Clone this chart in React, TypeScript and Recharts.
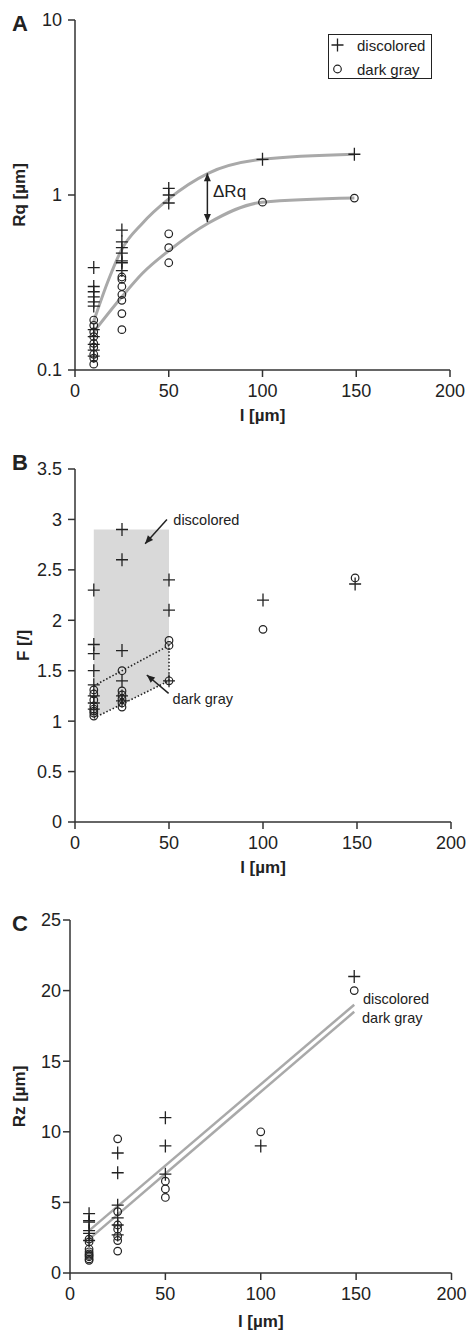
import React from 'react';
import { ComposedChart, Scatter, Line, Area, XAxis, YAxis, ReferenceLine, ReferenceDot } from 'recharts';

const FONT = '"Liberation Sans", Arial, Helvetica, sans-serif';
const INK = '#222';
const CURVE = '#a9a9a9';

// x positions of the measurement groups (l in µm)
const lengths = [10, 25, 50, 100, 149];
const xTicks = [0, 50, 100, 150, 200];

// panel A – Rq [µm], log axis
const rqTicks = [0.1, 1, 10];
const rqDiscolored = [
  [0.385, 0.3, 0.28, 0.262, 0.245, 0.232, 0.17, 0.155, 0.14, 0.13, 0.12],
  [0.63, 0.54, 0.5, 0.465, 0.42, 0.41, 0.37],
  [1.09, 1.0, 0.9],
  [1.6],
  [1.71],
];
const rqDarkGray = [
  [0.193, 0.18, 0.165, 0.155, 0.142, 0.135, 0.123, 0.117, 0.108],
  [0.34, 0.33, 0.3, 0.27, 0.25, 0.21, 0.17],
  [0.6, 0.5, 0.41],
  [0.91],
  [0.96],
];
const rqFitDiscoloredX = [10, 18, 25, 36, 50, 71, 100, 149];
const rqFitDiscolored = [0.19, 0.33, 0.49, 0.69, 0.95, 1.33, 1.6, 1.71];
const rqFitDarkGrayX = [10, 25, 36, 50, 71, 100, 149];
const rqFitDarkGray = [0.165, 0.262, 0.357, 0.48, 0.69, 0.91, 0.96];

// panel B – F [/]
const fTicks = [0, 0.5, 1, 1.5, 2, 2.5, 3, 3.5];
const fDiscolored = [
  [2.3, 1.76, 1.67, 1.5, 1.36, 1.25, 1.18, 1.12],
  [2.9, 2.6, 1.7, 1.4, 1.25, 1.2],
  [2.4, 2.1, 1.4],
  [2.2],
  [2.36],
];
const fDarkGray = [
  [1.31, 1.27, 1.21, 1.15, 1.12, 1.1, 1.08, 1.05],
  [1.5, 1.3, 1.26, 1.22, 1.18, 1.14],
  [1.8, 1.75, 1.4],
  [1.91],
  [2.42],
];
const shadeX = [10, 50];
const shadeLow = [1.03, 1.4];
const shadeHigh = [2.9, 2.9];
const bandX = [10, 50, 50, 10];
const bandY = [1.03, 1.4, 1.75, 1.35];

// panel C – Rz [µm]
const rzTicks = [0, 5, 10, 15, 20, 25];
const rzDiscolored = [
  [4.2, 3.7, 3.6, 3.0, 2.8, 2.3],
  [8.5, 7.1, 4.8, 3.9, 3.4, 2.7],
  [11.0, 9.0, 7.0],
  [9.0],
  [21.0],
];
const rzDarkGray = [
  [2.4, 2.2, 1.7, 1.5, 1.35, 1.25, 1.15, 1.0, 0.9],
  [9.5, 4.35, 3.4, 3.1, 2.6, 2.3, 1.55],
  [6.5, 5.95, 5.35],
  [10.0],
  [20.0],
];
const rzFitX = [10, 149];
const rzFitDiscolored = [3.0, 19.0];
const rzFitDarkGray = [2.4, 18.5];

const legendItems = ['discolored', 'dark gray'];

const toPoints = (groups: number[][]) =>
  groups.flatMap((vals, i) => vals.map((y) => ({ x: lengths[i], y })));
const zip = (xs: number[], ys: number[]) => xs.map((x, i) => ({ x, y: ys[i] }));

function Cross(props: any) {
  const { cx, cy } = props;
  if (cx == null || cy == null) return null;
  return (
    <path
      d={`M${cx - 6},${cy}H${cx + 6}M${cx},${cy - 6.5}V${cy + 6.5}`}
      stroke={INK}
      strokeWidth={1.3}
      fill="none"
    />
  );
}

function Ring(props: any) {
  const { cx, cy } = props;
  if (cx == null || cy == null) return null;
  return <circle cx={cx} cy={cy} r={3.8} stroke={INK} strokeWidth={1.2} fill="none" />;
}

function arrow(both: boolean) {
  return (p: any) => {
    const { x1, y1, x2, y2 } = p;
    const dx = x2 - x1;
    const dy = y2 - y1;
    const len = Math.hypot(dx, dy) || 1;
    const ux = dx / len;
    const uy = dy / len;
    const head = (tx: number, ty: number, sx: number, sy: number) => {
      const bx = tx - sx * 8;
      const by = ty - sy * 8;
      return `M${tx},${ty}L${bx - sy * 3.5},${by + sx * 3.5}L${bx + sy * 3.5},${by - sx * 3.5}Z`;
    };
    return (
      <g>
        <line x1={x1} y1={y1} x2={x2} y2={y2} stroke={INK} strokeWidth={1.5} />
        <path d={head(x2, y2, ux, uy) + (both ? head(x1, y1, -ux, -uy) : '')} fill={INK} />
      </g>
    );
  };
}

function note(text: string, size = 14.5) {
  return (p: any) => (
    <text x={p.cx} y={p.cy} dy="0.35em" fontSize={size} fill={INK}>
      {text}
    </text>
  );
}

const axisLine = { stroke: '#333', strokeWidth: 1.5 };
const tickStyle = { fill: INK, fontSize: 18 };
const labelStyle = { fontWeight: 'bold', fontSize: 17, fill: INK };

function xAxis(height: number, offset: number) {
  return (
    <XAxis
      type="number"
      dataKey="x"
      domain={[0, 200]}
      ticks={xTicks}
      interval={0}
      allowDataOverflow
      height={height}
      axisLine={axisLine}
      tickLine={axisLine}
      tickSize={7}
      tickMargin={7}
      tick={tickStyle}
      label={{ value: 'l [µm]', position: 'insideBottom', offset, style: labelStyle }}
    />
  );
}

function LegendBox() {
  return (
    <div
      style={{
        position: 'absolute',
        left: 328,
        top: 34,
        border: `1.5px solid ${INK}`,
        boxSizing: 'border-box',
        width: 104,
        height: 45,
        fontSize: 15,
        color: INK,
        background: '#fff',
      }}
    >
      {legendItems.map((item, i) => (
        <div
          key={item}
          style={{ position: 'absolute', left: 0, top: i * 24, height: 20, display: 'flex', alignItems: 'center' }}
        >
          <svg width={28} height={20}>
            {i === 0 ? <Cross cx={8.5} cy={10} /> : <Ring cx={8.5} cy={10} />}
          </svg>
          <span>{item}</span>
        </div>
      ))}
    </div>
  );
}

const letterStyle: React.CSSProperties = {
  position: 'absolute',
  left: 12,
  fontSize: 22,
  fontWeight: 'bold',
  lineHeight: '22px',
  color: INK,
};

export default function App() {
  return (
    <div style={{ position: 'absolute', left: 0, top: 0, width: 468, height: 1330, background: '#fff', fontFamily: FONT }}>
      {/* A */}
      <div style={{ position: 'absolute', left: 0, top: 0 }}>
        <ComposedChart width={468} height={432} margin={{ top: 20, right: 18, bottom: 0, left: 0 }}>
          {xAxis(62, 11)}
          <YAxis
            type="number"
            dataKey="y"
            scale="log"
            domain={[0.1, 10]}
            ticks={rqTicks}
            interval={0}
            allowDataOverflow
            width={75}
            axisLine={axisLine}
            tickLine={axisLine}
            tickSize={7}
            tickMargin={6}
            tick={tickStyle}
            label={{ value: 'Rq [µm]', angle: -90, position: 'insideLeft', offset: 19, style: { ...labelStyle, textAnchor: 'middle' } }}
          />
          <Line data={zip(rqFitDiscoloredX, rqFitDiscolored)} dataKey="y" type="monotone" stroke={CURVE} strokeWidth={3} dot={false} isAnimationActive={false} />
          <Line data={zip(rqFitDarkGrayX, rqFitDarkGray)} dataKey="y" type="monotone" stroke={CURVE} strokeWidth={3} dot={false} isAnimationActive={false} />
          <Scatter name="discolored" data={toPoints(rqDiscolored)} shape={Cross} isAnimationActive={false} />
          <Scatter name="dark gray" data={toPoints(rqDarkGray)} shape={Ring} isAnimationActive={false} />
          <ReferenceLine segment={[{ x: 70.6, y: 1.33 }, { x: 70.6, y: 0.7 }]} shape={arrow(true)} />
          <ReferenceDot x={73.6} y={1.05} r={0} shape={note('ΔRq', 17)} />
        </ComposedChart>
        <LegendBox />
        <div style={{ ...letterStyle, top: 13 }}>A</div>
      </div>

      {/* B */}
      <div style={{ position: 'absolute', left: 0, top: 420 }}>
        <ComposedChart width={468} height={460} margin={{ top: 49, right: 17, bottom: 0, left: 0 }}>
          {xAxis(58, 7)}
          <YAxis
            type="number"
            dataKey="y"
            domain={[0, 3.5]}
            ticks={fTicks}
            interval={0}
            allowDataOverflow
            width={75}
            axisLine={axisLine}
            tickLine={axisLine}
            tickSize={7}
            tickMargin={6}
            tick={tickStyle}
            label={{ value: 'F [/]', angle: -90, position: 'insideLeft', offset: 23, style: { ...labelStyle, textAnchor: 'middle' } }}
          />
          <Area
            data={shadeX.map((x, i) => ({ x, band: [shadeLow[i], shadeHigh[i]] }))}
            dataKey="band"
            type="linear"
            stroke="none"
            fill="#d9d9d9"
            fillOpacity={1}
            isAnimationActive={false}
          />
          <Line data={zip(bandX, bandY)} dataKey="y" type="linear" stroke={INK} strokeWidth={1.6} strokeDasharray="1.5 2" dot={false} isAnimationActive={false} />
          <Scatter data={toPoints(fDiscolored)} shape={Cross} isAnimationActive={false} />
          <Scatter data={toPoints(fDarkGray)} shape={Ring} isAnimationActive={false} />
          <ReferenceLine segment={[{ x: 48.9, y: 3.0 }, { x: 37.3, y: 2.76 }]} shape={arrow(false)} />
          <ReferenceLine segment={[{ x: 49.8, y: 1.276 }, { x: 38.2, y: 1.458 }]} shape={arrow(false)} />
          <ReferenceDot x={52.3} y={3.0} r={0} shape={note('discolored')} />
          <ReferenceDot x={51.9} y={1.217} r={0} shape={note('dark gray')} />
        </ComposedChart>
        <div style={{ ...letterStyle, top: 32 }}>B</div>
      </div>

      {/* C */}
      <div style={{ position: 'absolute', left: 0, top: 870 }}>
        <ComposedChart width={468} height={460} margin={{ top: 50, right: 16.5, bottom: 0, left: 0 }}>
          {xAxis(57, 3)}
          <YAxis
            type="number"
            dataKey="y"
            domain={[0, 25]}
            ticks={rzTicks}
            interval={0}
            allowDataOverflow
            width={70}
            axisLine={axisLine}
            tickLine={axisLine}
            tickSize={7}
            tickMargin={2}
            tick={tickStyle}
            label={{ value: 'Rz [µm]', angle: -90, position: 'insideLeft', offset: 19, style: { ...labelStyle, textAnchor: 'middle' } }}
          />
          <Line data={zip(rzFitX, rzFitDiscolored)} dataKey="y" type="linear" stroke={CURVE} strokeWidth={2.5} dot={false} isAnimationActive={false} />
          <Line data={zip(rzFitX, rzFitDarkGray)} dataKey="y" type="linear" stroke={CURVE} strokeWidth={2.5} dot={false} isAnimationActive={false} />
          <Scatter data={toPoints(rzDiscolored)} shape={Cross} isAnimationActive={false} />
          <Scatter data={toPoints(rzDarkGray)} shape={Ring} isAnimationActive={false} />
          <ReferenceDot x={153.6} y={19.41} r={0} shape={note('discolored')} />
          <ReferenceDot x={153.1} y={18.07} r={0} shape={note('dark gray')} />
        </ComposedChart>
        <div style={{ ...letterStyle, top: 43 }}>C</div>
      </div>
    </div>
  );
}
